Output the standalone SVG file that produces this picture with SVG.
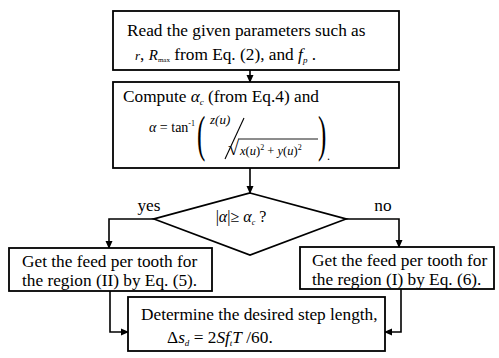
<svg xmlns="http://www.w3.org/2000/svg" width="499" height="358" viewBox="0 0 499 358">
<style>
.b{fill:#fff;stroke:#000;stroke-width:1.8}
.t{font-family:"Liberation Serif",serif;fill:#000}
.m{font-size:17.3px}
.i{font-style:italic}
.c{fill:none;stroke:#000;stroke-width:1.6}
</style>
<defs>
<marker id="a" markerWidth="8" markerHeight="8" refX="7" refY="4" orient="auto" markerUnits="userSpaceOnUse">
<path d="M0,0.5 L8,4 L0,7.5 Z" fill="#000"/>
</marker>
</defs>
<rect width="499" height="358" fill="#fff"/>
<g id="connectors">
<line class="c" x1="250" y1="70" x2="250" y2="82" marker-end="url(#a)"/>
<line class="c" x1="250" y1="168" x2="250" y2="193" marker-end="url(#a)"/>
<polyline class="c" points="154,219 109,219 109,248" marker-end="url(#a)"/>
<polyline class="c" points="346,219 399,219 399,247" marker-end="url(#a)"/>
<polyline class="c" points="110,291 110,332 128,332" marker-end="url(#a)"/>
<polyline class="c" points="401,289 401,332 385,332" marker-end="url(#a)"/>
</g>
<g id="n1">
<rect class="b" x="113" y="11" width="286" height="59"/>
<text class="t m" x="127" y="36">Read the given parameters such as</text>
<text class="t m" x="135" y="60"><tspan class="i" style="font-size:13px">r</tspan>, <tspan class="i" style="font-size:15px">R</tspan><tspan style="font-size:7px" dy="2">max</tspan><tspan dy="-2"> from Eq. (2), and </tspan><tspan class="i">f</tspan><tspan class="i" style="font-size:9px" dy="3">p</tspan><tspan dy="-3"> .</tspan></text>
</g>
<g id="n2">
<rect class="b" x="113" y="82" width="286" height="86"/>
<text class="t m" x="123" y="102">Compute <tspan class="i">α</tspan><tspan class="i" style="font-size:9px" dy="3">c</tspan><tspan dy="-3"> (from Eq.4) and</tspan></text>
<text class="t" x="149" y="132" style="font-size:14px"><tspan class="i">α</tspan> = tan<tspan style="font-size:8px" dy="-6">-1</tspan></text>
<text class="t" x="0" y="0" style="font-size:50px" transform="translate(197 151) scale(0.5 1)">(</text>
<text class="t i" x="210" y="124" style="font-size:13px">z(u)</text>
<line x1="244" y1="118" x2="225" y2="159" stroke="#000" stroke-width="1.1"/>
<text class="t" x="228" y="155" style="font-size:20px">√</text>
<line x1="238" y1="139" x2="318" y2="139" stroke="#000" stroke-width="0.9"/>
<text class="t" x="240" y="155" style="font-size:12.5px"><tspan class="i">x</tspan>(<tspan class="i">u</tspan>)<tspan style="font-size:8px" dy="-5">2</tspan><tspan dy="5"> + </tspan><tspan class="i">y</tspan>(<tspan class="i">u</tspan>)<tspan style="font-size:8px" dy="-5">2</tspan></text>
<text class="t" x="0" y="0" style="font-size:50px" transform="translate(318 151) scale(0.5 1)">)</text>
<text class="t" x="327" y="160" style="font-size:12px">.</text>
</g>
<g id="n3">
<polygon class="b" points="250,193 346,219 250,255 154,219"/>
<text class="t" x="241" y="222" text-anchor="middle" style="font-size:16px">|<tspan class="i">α</tspan>|≥ <tspan class="i">α</tspan><tspan class="i" style="font-size:8px" dy="3">c</tspan><tspan dy="-3"> ?</tspan></text>
</g>
<text class="t m" x="149" y="211" text-anchor="middle">yes</text>
<text class="t m" x="383" y="211" text-anchor="middle">no</text>
<g id="n4">
<rect class="b" x="9" y="248" width="203" height="43"/>
<text class="t m" x="22" y="267">Get the feed per tooth for</text>
<text class="t m" x="22" y="286">the region (II) by Eq. (5).</text>
</g>
<g id="n5">
<rect class="b" x="300" y="247" width="194" height="42"/>
<text class="t m" x="312" y="266">Get the feed per tooth for</text>
<text class="t m" x="312" y="285">the region (I) by Eq. (6).</text>
</g>
<g id="n6">
<rect class="b" x="128" y="297" width="257" height="54"/>
<text class="t m" x="141" y="320">Determine the desired step length,</text>
<text class="t m" x="167" y="343">Δ<tspan class="i">s</tspan><tspan class="i" style="font-size:9px" dy="3">d</tspan><tspan dy="-3"> = 2</tspan><tspan class="i">Sf</tspan><tspan class="i" style="font-size:9px" dy="3">t</tspan><tspan class="i" dy="-3">T</tspan> /60.</text>
</g>
</svg>
